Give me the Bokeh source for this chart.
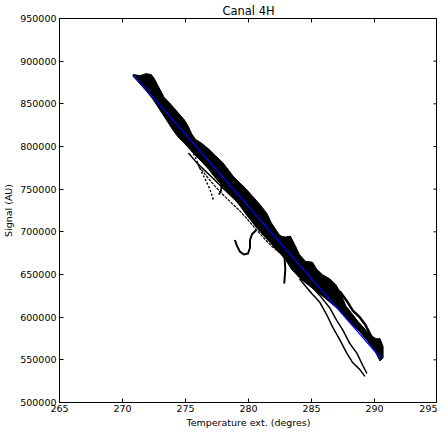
from math import pi
from bokeh.plotting import figure
from bokeh.models import SingleIntervalTicker, BasicTickFormatter, Range1d
from bokeh.embed import file_html
from bokeh.resources import INLINE

# ---- data (temperature in degrees, signal in AU) ----
fit_t = [270.92, 290.58]
fit_s = [883100, 550700]

band_upper_t = [270.84, 271.40, 271.88, 272.28, 272.52, 272.76, 273.00, 273.32, 273.72, 274.12,
                274.52, 274.92, 275.24, 275.48, 275.80, 276.28, 276.84, 277.40, 277.96, 278.44,
                278.84, 279.32, 279.80, 280.20, 280.68, 281.08, 281.48, 281.80, 282.20, 282.52,
                282.92, 283.32, 283.72, 284.04, 284.52, 285.08, 285.40, 285.88, 286.44, 286.92,
                287.24, 287.72, 288.20, 288.68, 289.16, 289.64, 290.12, 290.44, 290.68, 290.68]
band_upper_s = [884300, 883100, 885400, 884300, 879700, 872900, 866100, 857100, 851400, 844600,
                837800, 831000, 823000, 815100, 808300, 803800, 797000, 789000, 781100, 772000,
                764100, 757300, 750500, 743700, 735800, 728900, 721000, 710800, 701800, 695000,
                693800, 695000, 683600, 673400, 665500, 664400, 656400, 649600, 645100, 638300,
                630400, 613300, 604300, 595200, 587300, 579300, 574800, 574800, 565700, 552100]
band_lower_t = [290.44, 290.04, 289.48, 288.84, 288.20, 287.64, 287.08, 286.52, 285.96, 285.32,
                284.68, 284.04, 283.40, 282.92, 282.44, 281.80, 281.24, 280.68, 280.20, 279.72,
                279.24, 278.76, 278.28, 277.80, 277.32, 276.84, 276.36, 275.88, 275.40, 274.92,
                274.44, 274.04, 273.64, 273.24, 272.84, 272.44, 271.96, 271.48, 271.08, 270.84]
band_lower_s = [548700, 560100, 571400, 582700, 591800, 600900, 610000, 616800, 623600, 631500,
                638300, 646200, 656400, 667800, 675700, 685900, 695000, 704000, 713100, 722200,
                732400, 740300, 748200, 756200, 764100, 773200, 781100, 787900, 795800, 803800,
                810600, 818500, 827600, 836700, 845700, 854800, 863900, 871800, 878600, 882000]

upper_t = [287.24, 287.80, 288.28, 288.84, 289.24, 289.64, 290.04, 290.28]
upper_s = [630400, 619000, 607700, 599700, 591800, 580500, 570300, 563500]

low1_t = [284.04, 285.00, 285.64, 286.20, 286.68, 287.24, 287.80, 288.28, 288.84, 289.24]
low1_s = [645100, 628100, 617900, 603100, 588400, 573700, 557800, 546500, 538500, 530600]

low2_t = [284.44, 285.64, 286.44, 287.00, 287.48, 288.04, 288.60, 289.08, 289.40]
low2_s = [645100, 625800, 611100, 596300, 585000, 569100, 557800, 543100, 534000]

drop_t = [282.52, 282.68, 282.84, 282.92, 282.84]
drop_s = [696100, 687000, 673400, 656400, 639400]

hook_t = [278.92, 279.08, 279.32, 279.64, 279.96, 280.12, 280.12, 280.28, 280.60]
hook_s = [690400, 683600, 676800, 673400, 674600, 681400, 690400, 697200, 701800]

wisp1_t = [275.48, 275.80, 276.04, 276.36, 276.60, 276.92, 277.08, 277.24]
wisp1_s = [795800, 786800, 777700, 767500, 760700, 750500, 743700, 735800]

wisp2_t = [275.72, 276.28, 276.84, 277.32, 277.64, 277.88, 277.80, 277.64]
wisp2_s = [792400, 783400, 776600, 768600, 761800, 755000, 747100, 743700]

side1_t = [275.24, 275.88, 276.52, 277.16, 277.80, 278.44, 279.08, 279.72, 280.36, 281.00, 281.64]
side1_s = [792400, 781100, 772000, 763000, 753900, 744800, 735800, 724400, 713100, 701800, 690400]

side2_t = [276.04, 276.68, 277.32, 277.96, 278.60, 279.24, 279.88, 280.52, 281.16, 281.80, 282.44]
side2_s = [776600, 765200, 753900, 743700, 734600, 725600, 715400, 704000, 693800, 683600, 675700]

x_lo, x_hi, x_step = 265, 295, 5
y_lo, y_hi, y_step = 500000, 950000, 50000
x_ticks = list(range(x_lo, x_hi + 1, x_step))
y_ticks = list(range(y_lo, y_hi + 1, y_step))

FONT = "DejaVu Sans"

p = figure(width=437, height=430, output_backend="svg", toolbar_location=None,
           x_range=Range1d(x_lo, x_hi), y_range=Range1d(y_lo, y_hi),
           title="Canal 4H", min_border_left=54, min_border_right=0,
           min_border_top=13, min_border_bottom=0)
p.title.align = "center"
p.title.text_font = FONT
p.title.text_font_size = "11.5px"
p.title.text_font_style = "normal"
p.title.text_color = "#000000"
p.title.standoff = 2
p.xgrid.visible = False
p.ygrid.visible = False
p.outline_line_color = "#000000"
p.background_fill_color = "white"
p.border_fill_color = "white"

p.xaxis.ticker = SingleIntervalTicker(interval=x_step)
p.yaxis.ticker = SingleIntervalTicker(interval=y_step)
p.yaxis.formatter = BasicTickFormatter(use_scientific=False)
p.xaxis.axis_label = "Temperature ext. (degres)"
p.yaxis.axis_label = "Signal (AU)"
for ax in (p.xaxis[0], p.yaxis[0]):
    ax.major_tick_in = 4
    ax.major_tick_out = 0
    ax.minor_tick_in = 0
    ax.minor_tick_out = 0
    ax.axis_line_color = "#000000"
    ax.major_tick_line_color = "#000000"
    ax.major_label_text_font = FONT
    ax.major_label_text_font_size = "9.5px"
    ax.major_label_text_color = "#000000"
    ax.axis_label_text_font = FONT
    ax.axis_label_text_font_size = "9.5px"
    ax.axis_label_text_font_style = "normal"
    ax.axis_label_text_color = "#000000"
p.xaxis.major_label_standoff = 2
p.xaxis.axis_label_standoff = 2
p.yaxis.major_label_standoff = 3
p.yaxis.axis_label_standoff = 3

# inward ticks on the top and right sides
p.ray(x=x_ticks, y=[y_hi] * len(x_ticks), length=4, length_units="screen",
      angle=-pi / 2, line_color="#000000", line_width=1)
p.ray(x=[x_hi] * len(y_ticks), y=y_ticks, length=4, length_units="screen",
      angle=pi, line_color="#000000", line_width=1)

# dense measurement band
p.patch(band_upper_t + band_lower_t, band_upper_s + band_lower_s,
        fill_color="black", line_color="black", line_width=1)
for tt, ss, w, dash in ((upper_t, upper_s, 2.5, "solid"),
                        (low1_t, low1_s, 1.5, "solid"),
                        (low2_t, low2_s, 1.5, "solid"),
                        (drop_t, drop_s, 2, "solid"),
                        (hook_t, hook_s, 2, "solid"),
                        (wisp1_t, wisp1_s, 1.5, "2 2"),
                        (wisp2_t, wisp2_s, 1.8, "solid"),
                        (side1_t, side1_s, 1.5, "solid"),
                        (side2_t, side2_s, 1.2, "3 1")):
    p.line(tt, ss, line_color="black", line_width=w, line_dash=dash, line_join="round")

p.line(fit_t, fit_s, line_color="#0000ff", line_width=1.2)

open("out.html", "w").write(file_html(p, INLINE))
